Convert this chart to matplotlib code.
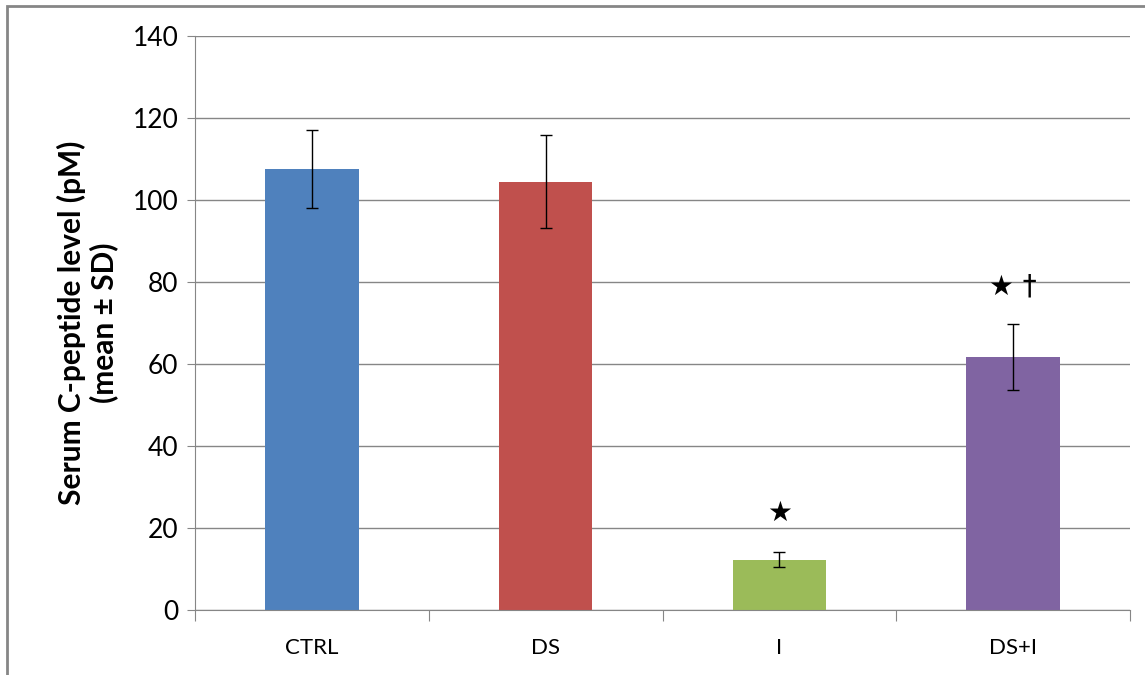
import matplotlib.pyplot as plt
from matplotlib.patches import Rectangle

# Data
groups = ['CTRL', 'DS', 'I', 'DS+I']
means = [107.5, 104.5, 12.3, 61.7]
sds = [9.5, 11.3, 1.9, 8.1]
bar_colors = ['#4F81BD', '#C0504D', '#9BBB59', '#8064A2']
marks = ['', '', '\u2605', '\u2605 \u2020']
mark_y = [0, 0, 23.8, 79]

plt.rcParams['font.family'] = ['Lato', 'DejaVu Sans']

fig = plt.figure(figsize=(11.45, 6.75), dpi=100)
ax = fig.add_axes([195 / 1145, 1 - 610 / 675, (1130 - 195) / 1145, (610 - 36) / 675])

x = list(range(len(groups)))
ax.bar(x, means, width=0.4, color=bar_colors, zorder=2)
ax.errorbar(x, means, yerr=sds, fmt='none', ecolor='black', elinewidth=1,
            capsize=4.5, capthick=1, zorder=3)

for xi, m, my in zip(x, marks, mark_y):
    if m:
        ax.text(xi, my, m, ha='center', va='center', fontsize=20,
                family=['DejaVu Sans'], zorder=4)

ax.set_xlim(-0.5, 3.5)
ax.set_ylim(0, 140)
ax.set_yticks(range(0, 141, 20))
ax.yaxis.grid(True, color='#868686', linewidth=1, zorder=0)
ax.set_axisbelow(True)

ax.set_xticks([-0.5, 0.5, 1.5, 2.5, 3.5])
ax.set_xticklabels([])
ax.set_xticks(x, minor=True)
ax.set_xticklabels(groups, minor=True, fontsize=16)
ax.tick_params(axis='x', which='major', length=8, color='#868686', direction='out')
ax.tick_params(axis='x', which='minor', length=0, pad=20)
ax.tick_params(axis='y', length=6, color='#868686', labelsize=19, pad=6)

for side in ['top', 'right']:
    ax.spines[side].set_visible(False)
for side in ['left', 'bottom']:
    ax.spines[side].set_color('#868686')

ax.set_ylabel('Serum C-peptide level (pM)\n(mean \u00b1 SD)', fontsize=21.5,
              fontweight='bold', labelpad=10, linespacing=1.15)

# outer chart frame
fig.patches.append(Rectangle((7 / 1145, -0.1), 1.2, 1.1 - 6 / 675,
                             transform=fig.transFigure, fill=False,
                             edgecolor='#868686', linewidth=2))

plt.savefig('out.png', dpi=100)
